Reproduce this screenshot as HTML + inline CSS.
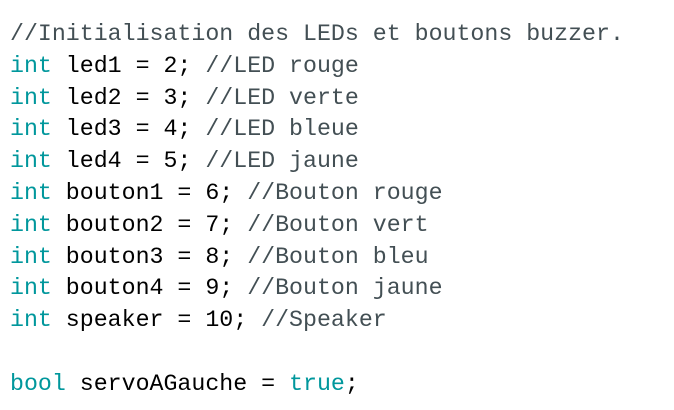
<!DOCTYPE html>
<html><head><style>
html,body{margin:0;padding:0;background:#fff;width:674px;height:410px;overflow:hidden}
pre{margin:0;padding:19px 0 0 10px;font-family:"Liberation Mono",monospace;font-size:23.25px;line-height:31.8px;color:#000}
.c{color:#434f54}.k{color:#00979c}
</style></head><body><pre><span class="c">//Initialisation des LEDs et boutons buzzer.</span>
<span class="k">int</span> led1 = 2; <span class="c">//LED rouge</span>
<span class="k">int</span> led2 = 3; <span class="c">//LED verte</span>
<span class="k">int</span> led3 = 4; <span class="c">//LED bleue</span>
<span class="k">int</span> led4 = 5; <span class="c">//LED jaune</span>
<span class="k">int</span> bouton1 = 6; <span class="c">//Bouton rouge</span>
<span class="k">int</span> bouton2 = 7; <span class="c">//Bouton vert</span>
<span class="k">int</span> bouton3 = 8; <span class="c">//Bouton bleu</span>
<span class="k">int</span> bouton4 = 9; <span class="c">//Bouton jaune</span>
<span class="k">int</span> speaker = 10; <span class="c">//Speaker</span>

<span class="k">bool</span> servoAGauche = <span class="k">true</span>;</pre></body></html>
